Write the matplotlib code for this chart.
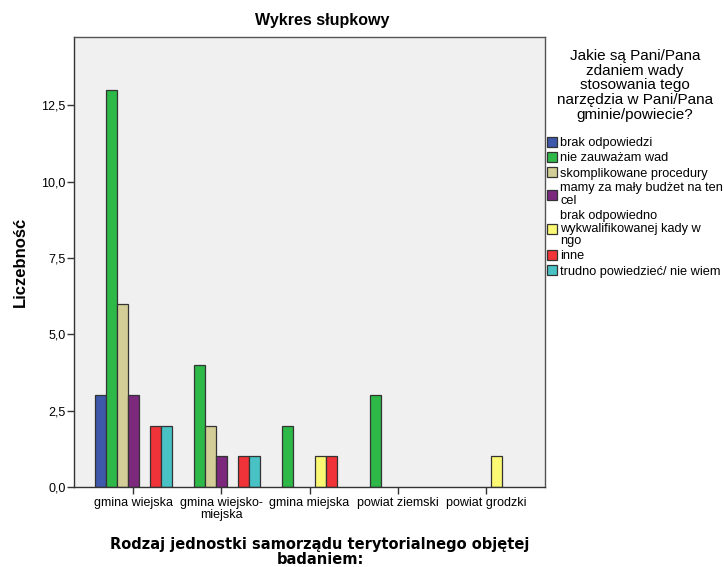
import numpy as np
import matplotlib.pyplot as plt
from matplotlib.ticker import FuncFormatter

categories = ['gmina wiejska', 'gmina wiejsko-\nmiejska', 'gmina miejska',
              'powiat ziemski', 'powiat grodzki']
series_names = ['brak odpowiedzi', 'nie zauważam wad', 'skomplikowane procedury',
                'mamy za mały budżet na ten\ncel',
                'brak odpowiedno\nwykwalifikowanej kady w\nngo',
                'inne', 'trudno powiedzieć/ nie wiem']
values = [
    [3, 0, 0, 0, 0],
    [13, 4, 2, 3, 0],
    [6, 2, 0, 0, 0],
    [3, 1, 0, 0, 0],
    [0, 0, 1, 0, 1],
    [2, 1, 1, 0, 0],
    [2, 1, 0, 0, 0],
]
colors = ['#3E58AC', '#2EB848', '#D3CE97', '#7C287D', '#FBF873', '#EF3338', '#48C2C5']
yticks = [0, 2.5, 5, 7.5, 10, 12.5]
legend_title = 'Jakie są Pani/Pana\nzdaniem wady\nstosowania tego\nnarzędzia w Pani/Pana\ngminie/powiecie?'

plt.rcParams['font.family'] = ['Liberation Sans', 'DejaVu Sans']

fig = plt.figure(figsize=(7.24, 5.67), dpi=100)
ax = fig.add_axes([74 / 724, 1 - 487 / 567, 471 / 724, 450 / 567])
ax.set_facecolor('#F0F0F0')

x = np.arange(len(categories))
w = 0.125
handles = []
for i, (name, vals, c) in enumerate(zip(series_names, values, colors)):
    vals = np.array(vals, dtype=float)
    keep = vals > 0
    ax.bar(x[keep] + (i - 3) * w, vals[keep], width=w, color=c,
           edgecolor='#333333', linewidth=0.9)
    handles.append(plt.Rectangle((0, 0), 1, 1, facecolor=c, edgecolor='#333333', linewidth=0.9))

ax.set_xlim(-0.67, 4.67)
ax.set_ylim(0, 14.73)
ax.set_xticks(x)
ax.set_xticklabels(categories, fontsize=9, linespacing=1.0)
ax.set_yticks(yticks)
ax.yaxis.set_major_formatter(FuncFormatter(lambda v, p: f'{v:.1f}'.replace('.', ',')))
ax.tick_params(axis='y', labelsize=9, length=5, width=1, color='#333333', pad=1)
ax.tick_params(axis='x', length=5, width=1, color='#333333', pad=2)
for s in ax.spines.values():
    s.set_color('#555555')
    s.set_linewidth(1)
ax.spines['left'].set_color('#333333')
ax.spines['bottom'].set_color('#333333')

fig.text(322 / 724, 1 - 21 / 567, 'Wykres słupkowy', fontsize=11.5, fontweight='bold',
         ha='center', va='center')
fig.text(20 / 724, 1 - 262 / 567, 'Liczebność', fontsize=12, fontweight='bold',
         rotation=90, ha='center', va='center')
fig.text(320 / 724, 1 - 552 / 567, 'Rodzaj jednostki samorządu terytorialnego objętej\nbadaniem:',
         fontsize=10.5, fontweight='bold', family='DejaVu Sans', ha='center', va='center',
         linespacing=0.95)

leg = fig.legend(handles, series_names, loc='upper left',
                 bbox_to_anchor=(547 / 724, 1 - 49 / 567), frameon=False,
                 fontsize=9.2, title=legend_title,
                 title_fontsize=11, handlelength=0.8, handleheight=0.8,
                 handletextpad=0.25, labelspacing=0.22, borderpad=0, borderaxespad=0)
for t in leg.get_texts():
    t.set_linespacing(1.08)
leg.get_title().set_linespacing(1.06)
leg.get_title().set_multialignment('center')
leg._legend_box.sep = 11

fig.savefig('out.png', dpi=100)
